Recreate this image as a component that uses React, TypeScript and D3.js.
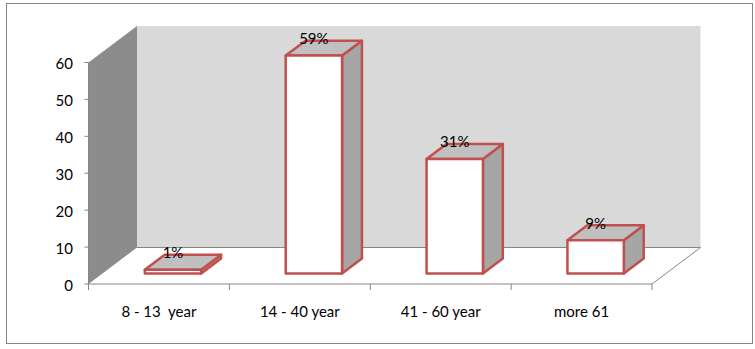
import React from "react";
import * as d3 from "d3";

const categories = ["8 - 13  year", "14 - 40 year", "41 - 60 year", "more 61"];
const values = [1, 59, 31, 9];
const valueLabels = ["1%", "59%", "31%", "9%"];
const yTicks = [0, 10, 20, 30, 40, 50, 60];

const FONT = "Lato, 'Open Sans', sans-serif";
const RED = "#c0504d";
const AXIS = "#868686";

const x = d3.scaleBand<string>().domain(categories).range([88.5, 652]).paddingInner(0.6).paddingOuter(0.3);
const y = d3.scaleLinear().domain([0, 60]).range([284, 62.5]);
const depthX = d3.scaleLinear().domain([0, 1]).range([0, 48.5]);
const depthY = d3.scaleLinear().domain([0, 1]).range([0, -36.5]);
const BAR_Z0 = 0.29;
const BAR_Z1 = 0.7;

const pt = (px: number, py: number, z: number) => `${px + depthX(z)},${py + depthY(z)}`;

export default function App() {
  const [x0, x1] = x.range();
  const y0 = y(0);
  const yTop = y(60);
  const step = x.step();
  return (
    <svg width={755} height={349} style={{ position: "absolute", left: 0, top: 0, background: "#fff" }} fontFamily={FONT}>
      <rect x={6.5} y={3.5} width={746} height={340} fill="#fff" stroke={AXIS} strokeWidth={1} />
      {/* back wall */}
      <polygon points={[pt(x0, yTop, 1), pt(x1, yTop, 1), pt(x1, y0, 1), pt(x0, y0, 1)].join(" ")} fill="#d9d9d9" />
      {/* left wall */}
      <polygon points={[pt(x0, yTop, 0), pt(x0, yTop, 1), pt(x0, y0, 1), pt(x0, y0, 0)].join(" ")} fill="#8c8c8c" />
      {/* floor edges */}
      <polyline points={[pt(x0, y0, 1), pt(x1, y0, 1), pt(x1, y0, 0), pt(x0, y0, 0)].join(" ")} fill="none" stroke={AXIS} />
      <line x1={x0} x2={x0} y1={yTop} y2={y0} stroke={AXIS} />
      {yTicks.map((t) => (
        <g key={t}>
          <line x1={x0 - 4} x2={x0} y1={y(t)} y2={y(t)} stroke={AXIS} />
          <text x={73} y={y(t) + 6.5} textAnchor="end" fontSize={15} fill="#000">{t}</text>
        </g>
      ))}
      {categories.map((c, i) => (
        <line key={c} x1={x0 + i * step} x2={x0 + i * step} y1={y0} y2={y0 + 6} stroke={AXIS} />
      ))}
      <line x1={x1} x2={x1} y1={y0} y2={y0 + 6} stroke={AXIS} />
      {categories.map((c, i) => {
        const left = x(c)!;
        const right = left + x.bandwidth();
        const top = y(values[i]);
        return (
          <g key={c} stroke={RED} strokeWidth={2.5} strokeLinejoin="round">
            <polygon points={[pt(right, y0, BAR_Z0), pt(right, y0, BAR_Z1), pt(right, top, BAR_Z1), pt(right, top, BAR_Z0)].join(" ")} fill="#a6a6a6" />
            <polygon points={[pt(left, top, BAR_Z0), pt(right, top, BAR_Z0), pt(right, top, BAR_Z1), pt(left, top, BAR_Z1)].join(" ")} fill="#c0c0c0" />
            <polygon points={[pt(left, y0, BAR_Z0), pt(right, y0, BAR_Z0), pt(right, top, BAR_Z0), pt(left, top, BAR_Z0)].join(" ")} fill="#fff" />
          </g>
        );
      })}
      {categories.map((c, i) => (
        <text key={c} x={x0 + (i + 0.5) * step} y={317} textAnchor="middle" fontSize={15} fill="#000" style={{ whiteSpace: "pre" }}>{c}</text>
      ))}
      {categories.map((c, i) => (
        <text key={c} x={x(c)! + x.bandwidth() / 2 + depthX(BAR_Z0)} y={y(values[i]) + depthY(BAR_Z0) - 11.5} textAnchor="middle" fontSize={15} fill="#000">{valueLabels[i]}</text>
      ))}
    </svg>
  );
}
